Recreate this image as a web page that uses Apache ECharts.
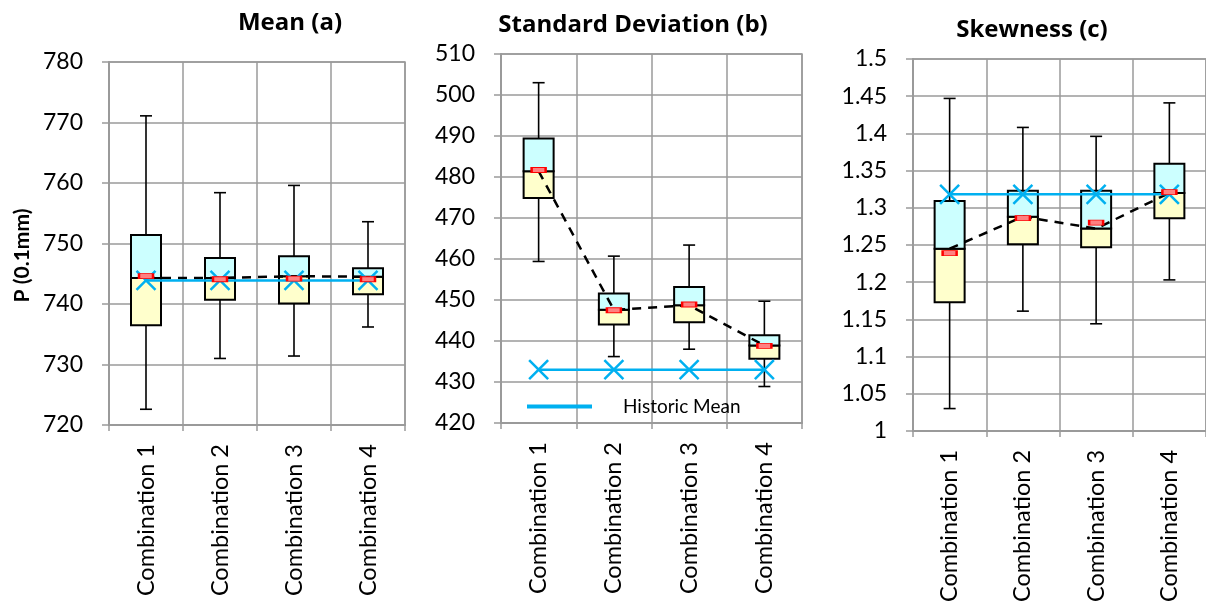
<!DOCTYPE html>
<html>
<head>
<meta charset="utf-8">
<script src="https://cdn.jsdelivr.net/npm/echarts@6/dist/echarts.min.js"></script>
<style>
html,body{margin:0;padding:0;background:#fff;}
#chart{width:1206px;height:605px;}
</style>
</head>
<body>
<div id="chart"></div>
<script>
// ---------- DATA ----------
const categories = ['Combination 1', 'Combination 2', 'Combination 3', 'Combination 4'];

// Mean (a)
const meanMin = [722.6, 731.0, 731.4, 736.2];
const meanQ1  = [736.5, 740.7, 740.1, 741.6];
const meanMed = [744.3, 744.3, 744.6, 744.5];
const meanQ3  = [751.4, 747.6, 747.9, 745.9];
const meanMax = [771.1, 758.4, 759.6, 753.6];
const meanAvg = [744.6, 744.1, 744.2, 744.1];
const meanHist = [743.9, 743.9, 743.9, 743.9];

// Standard Deviation (b)
const sdMin = [459.4, 436.2, 438.0, 428.9];
const sdQ1  = [474.9, 444.0, 444.6, 435.7];
const sdMed = [481.4, 447.6, 448.7, 438.9];
const sdQ3  = [489.4, 451.6, 453.2, 441.4];
const sdMax = [503.0, 460.7, 463.4, 449.7];
const sdAvg = [481.7, 447.5, 448.9, 438.8];
const sdHist = [433.0, 433.0, 433.0, 433.0];

// Skewness (c)
const skMin = [1.030, 1.161, 1.144, 1.203];
const skQ1  = [1.173, 1.251, 1.247, 1.286];
const skMed = [1.245, 1.288, 1.272, 1.320];
const skQ3  = [1.309, 1.323, 1.323, 1.359];
const skMax = [1.447, 1.408, 1.396, 1.441];
const skAvg = [1.239, 1.286, 1.280, 1.321];
const skHist = [1.318, 1.318, 1.318, 1.318];

const titles = ['Mean (a)', 'Standard Deviation (b)', 'Skewness (c)'];
const yAxisName = 'P (0.1mm)';
const legendName = 'Historic Mean';

// ---------- STYLE ----------
const FONT = 'Lato, "Open Sans", sans-serif';
const TITLE_FONT = '"Open Sans", Lato, sans-serif';
const GRID_COLOR = '#9a9a9a';
const CYAN = '#00B0F0';
const LOWER_FILL = '#FFFFCC';
const UPPER_FILL = '#CCFFFF';

const chart = echarts.init(document.getElementById('chart'), null, {renderer: 'canvas'});

const panels = [
  {min: meanMin, q1: meanQ1, med: meanMed, q3: meanQ3, max: meanMax, avg: meanAvg, hist: meanHist,
   yMin: 720, yMax: 780, yInt: 10, grid: {left: 109, top: 62, width: 296, height: 363}},
  {min: sdMin, q1: sdQ1, med: sdMed, q3: sdQ3, max: sdMax, avg: sdAvg, hist: sdHist,
   yMin: 420, yMax: 510, yInt: 10, grid: {left: 501, top: 54, width: 301, height: 369}},
  {min: skMin, q1: skQ1, med: skMed, q3: skQ3, max: skMax, avg: skAvg, hist: skHist,
   yMin: 1, yMax: 1.5, yInt: 0.05, grid: {left: 913, top: 59, width: 298, height: 372}}
];

function renderBox(params, api) {
  const i = api.value(0);
  const pMin = api.coord([i, api.value(1)]);
  const pQ1 = api.coord([i, api.value(2)]);
  const pMed = api.coord([i, api.value(3)]);
  const pQ3 = api.coord([i, api.value(4)]);
  const pMax = api.coord([i, api.value(5)]);
  const x = pMin[0];
  const bw = 30, cw = 12;
  const stroke = {stroke: '#000', lineWidth: 2};
  return {
    type: 'group',
    children: [
      {type: 'line', shape: {x1: x, y1: pQ1[1], x2: x, y2: pMin[1]}, style: {stroke: '#000', lineWidth: 1.6}},
      {type: 'line', shape: {x1: x - cw / 2, y1: pMin[1], x2: x + cw / 2, y2: pMin[1]}, style: {stroke: '#000', lineWidth: 1.6}},
      {type: 'line', shape: {x1: x, y1: pQ3[1], x2: x, y2: pMax[1]}, style: {stroke: '#000', lineWidth: 1.6}},
      {type: 'line', shape: {x1: x - cw / 2, y1: pMax[1], x2: x + cw / 2, y2: pMax[1]}, style: {stroke: '#000', lineWidth: 1.6}},
      {type: 'rect', shape: {x: x - bw / 2, y: pMed[1], width: bw, height: pQ1[1] - pMed[1]},
       style: Object.assign({fill: LOWER_FILL}, stroke)},
      {type: 'rect', shape: {x: x - bw / 2, y: pQ3[1], width: bw, height: pMed[1] - pQ3[1]},
       style: Object.assign({fill: UPPER_FILL}, stroke)}
    ]
  };
}

const titleStyle = {fontFamily: TITLE_FONT, fontWeight: 'bold', fontSize: 24, color: '#000'};

const option = {
  animation: false,
  backgroundColor: '#fff',
  title: [
    {text: titles[0], left: 285, top: 6, textAlign: 'center', textStyle: titleStyle},
    {text: titles[1], left: 628, top: 8, textAlign: 'center', textStyle: titleStyle},
    {text: titles[2], left: 1027, top: 13, textAlign: 'center', textStyle: titleStyle}
  ],
  legend: {
    data: [{name: legendName, icon: 'rect'}],
    left: 522, top: 392,
    itemWidth: 63, itemHeight: 2,
    textStyle: {fontFamily: FONT, fontSize: 19, color: '#000', padding: [0, 0, 0, 27]},
    selectedMode: false
  },
  grid: panels.map(p => Object.assign({show: true, borderColor: GRID_COLOR, borderWidth: 1.5, containLabel: false}, p.grid)),
  xAxis: panels.map((p, k) => ({
    type: 'category', gridIndex: k, data: categories, boundaryGap: true,
    axisLine: {show: true, lineStyle: {color: GRID_COLOR, width: 2}},
    axisTick: {show: true, alignWithLabel: false, length: 6, lineStyle: {color: GRID_COLOR, width: 1.5}},
    splitLine: {show: true, interval: 0, lineStyle: {color: GRID_COLOR, width: 1.5}},
    axisLabel: {rotate: 90, interval: 0, margin: 19, fontFamily: FONT, fontSize: 23.5, color: '#000'}
  })),
  yAxis: panels.map((p, k) => ({
    type: 'value', gridIndex: k, min: p.yMin, max: p.yMax, interval: p.yInt,
    name: k === 0 ? yAxisName : '',
    nameLocation: 'middle', nameGap: 76, nameRotate: 90,
    nameTextStyle: {fontFamily: FONT, fontWeight: 'bold', fontSize: 21, color: '#000', padding: [0, 24, 0, 0]},
    axisLine: {show: true, lineStyle: {color: GRID_COLOR, width: 2}},
    axisTick: {show: true, length: 7, lineStyle: {color: GRID_COLOR, width: 1.5}},
    splitLine: {show: true, lineStyle: {color: GRID_COLOR, width: 1.5}},
    axisLabel: {margin: 26, fontFamily: FONT, fontSize: 23, color: '#000'}
  })),
  series: []
};

panels.forEach((p, k) => {
  option.series.push({
    type: 'custom', xAxisIndex: k, yAxisIndex: k, z: 2, silent: true,
    renderItem: renderBox,
    encode: {x: 0, y: [1, 2, 3, 4, 5]},
    data: categories.map((c, i) => [i, p.min[i], p.q1[i], p.med[i], p.q3[i], p.max[i]])
  });
  option.series.push({
    type: 'line', xAxisIndex: k, yAxisIndex: k, z: 3, silent: true,
    data: p.med, symbol: 'none',
    lineStyle: {color: '#000', width: 2.5, type: [9, 7]}
  });
  option.series.push({
    name: legendName,
    type: 'line', xAxisIndex: k, yAxisIndex: k, z: 4, silent: true,
    data: p.hist,
    symbol: 'path://M0,0L20,20M20,0L0,20', symbolSize: 19,
    itemStyle: {color: CYAN, borderColor: CYAN, borderWidth: 2.5},
    lineStyle: {color: CYAN, width: 2.5}
  });
  option.series.push({
    type: 'scatter', xAxisIndex: k, yAxisIndex: k, z: 5, silent: true,
    data: p.avg, symbol: 'rect', symbolSize: [14, 5],
    itemStyle: {color: '#ff8080', borderColor: '#ff0000', borderWidth: 1.5, opacity: 1}
  });
});

chart.setOption(option);
</script>
</body>
</html>
